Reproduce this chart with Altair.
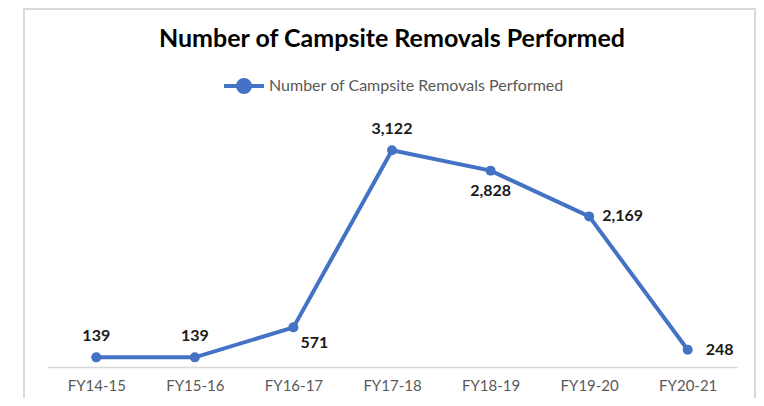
import altair as alt
import pandas as pd

years = ["FY14-15", "FY15-16", "FY16-17", "FY17-18", "FY18-19", "FY19-20", "FY20-21"]
removals = [139, 139, 571, 3122, 2828, 2169, 248]
series_name = "Number of Campsite Removals Performed"

df = pd.DataFrame({"year": years, "value": removals, "series": series_name})

BLUE = "#4472C4"
FONT = "Lato"

x = alt.X("year:N", sort=years, title=None,
          scale=alt.Scale(type="point", padding=0.5),
          axis=alt.Axis(labelAngle=0, ticks=False, domainColor="#d9d9d9", domainWidth=1.5,
                        labelColor="#595959", labelFontSize=15, labelFont=FONT, labelPadding=11, grid=False))
y = alt.Y("value:Q", scale=alt.Scale(domain=[0, 3500]), axis=None)

legend_path = ("M-1,0L1,0M-0.3,0A0.3,0.3 0 1,0 0.3,0A0.3,0.3 0 1,0 -0.3,0Z")

base = alt.Chart(df)

line = base.mark_line(strokeWidth=4, point=alt.OverlayMarkDef(size=100, filled=True, color=BLUE)).encode(
    x=x, y=y,
    color=alt.Color("series:N", scale=alt.Scale(range=[BLUE]),
                    legend=alt.Legend(title=None, orient="none", legendX=175, legendY=-60,
                                      symbolType=legend_path, symbolSize=1600, symbolStrokeWidth=4,
                                      symbolFillColor=BLUE, symbolStrokeColor=BLUE,
                                      labelFont=FONT, labelFontSize=16, labelColor="#595959",
                                      labelLimit=600, labelOffset=3))
)

def labels(cats, **kw):
    return base.transform_filter(alt.FieldOneOfPredicate(field="year", oneOf=cats)).mark_text(
        font=FONT, fontSize=16, fontWeight="bold", color="#1a1a1a", **kw
    ).encode(x=x, y=y, text=alt.Text("value:Q", format=","))

above = labels(["FY14-15", "FY15-16", "FY17-18"], dy=-21, align="center", baseline="middle")
below = labels(["FY18-19"], dy=20, align="center", baseline="middle")
below_right = labels(["FY16-17"], dx=21, dy=16, align="center", baseline="middle")
right1 = labels(["FY19-20"], dx=13, align="left", baseline="middle")
right2 = labels(["FY20-21"], dx=18, align="left", baseline="middle")

frame = alt.Chart(alt.Data(values=[{}])).mark_rect(fill=None, stroke="#d9d9d9", strokeWidth=2).encode(
    x=alt.value(-23), x2=alt.value(708), y=alt.value(-115), y2=alt.value(300)
)

title = alt.Chart(alt.Data(values=[{"t": series_name}])).mark_text(
    font=FONT, fontSize=25, fontWeight="bold", color="#000000", align="center", baseline="alphabetic"
).encode(x=alt.value(345), y=alt.value(-77), text="t:N")

chart = alt.layer(frame, title, line, above, below, below_right, right1, right2).properties(
    width=690, height=243,
    autosize=alt.AutoSizeParams(type="none"),
    padding={"left": 39, "top": 116, "right": 19, "bottom": 31},
).configure(background="white").configure_view(stroke="transparent", strokeWidth=0)

chart.save("out.html", embed_options={"renderer": "svg", "actions": False})
